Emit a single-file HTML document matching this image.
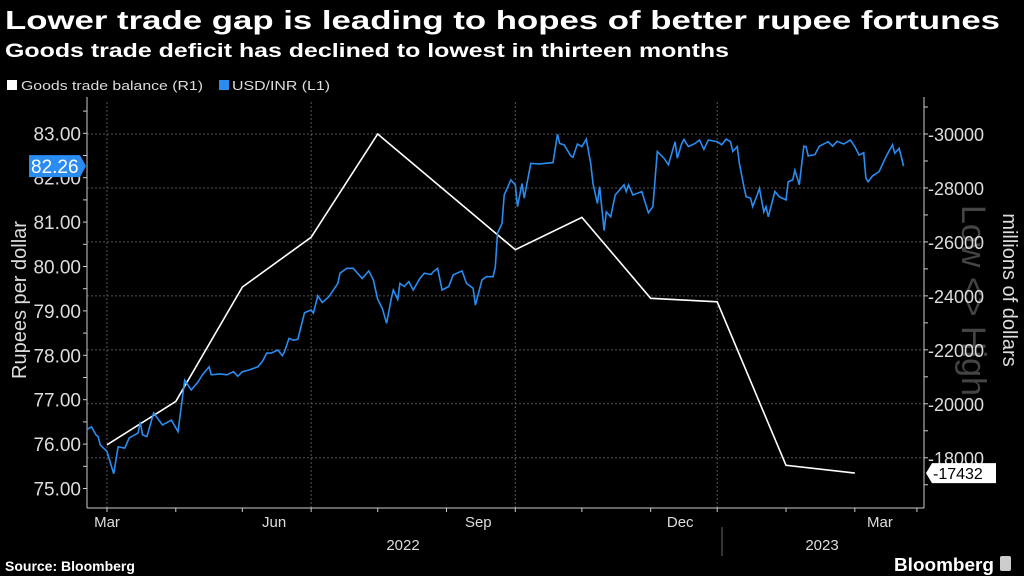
<!DOCTYPE html>
<html><head><meta charset="utf-8"><style>
html,body{margin:0;padding:0;background:#000;width:1024px;height:576px;overflow:hidden}
svg{display:block;font-family:"Liberation Sans",sans-serif}
</style></head><body>
<svg id="chart" width="1024" height="576" viewBox="0 0 1024 576">
<rect x="0" y="0" width="1024" height="576" fill="#000"/>
<text x="5" y="29" fill="#fff" font-size="26" font-weight="bold" textLength="995" lengthAdjust="spacingAndGlyphs">Lower trade gap is leading to hopes of better rupee fortunes</text>
<text x="5" y="57" fill="#fff" font-size="19" font-weight="bold" textLength="724" lengthAdjust="spacingAndGlyphs">Goods trade deficit has declined to lowest in thirteen months</text>
<g>
<g><rect x="7" y="80" width="10" height="10" fill="#fff"/><text x="21" y="90" fill="#ddd" font-size="13" textLength="182" lengthAdjust="spacingAndGlyphs">Goods trade balance (R1)</text></g>
<g><rect x="219" y="80" width="10" height="10" fill="#2a8cf0"/><text x="232" y="90" fill="#ddd" font-size="13" textLength="98" lengthAdjust="spacingAndGlyphs">USD/INR (L1)</text></g>
</g>
<text transform="translate(962,205) rotate(90)" fill="#444" font-size="34">Low &lt;&gt; High</text>
<g id="grid"></g>
<g id="axes"></g>
<g id="series"></g>
<text transform="translate(26,300) rotate(-90)" text-anchor="middle" fill="#ddd" font-size="20">Rupees per dollar</text>
<text transform="translate(1003,290) rotate(90)" text-anchor="middle" fill="#ddd" font-size="20">millions of dollars</text>
<text x="5" y="571" fill="#fff" font-size="14" font-weight="bold">Source: Bloomberg</text>
<text x="894" y="571" fill="#fff" font-size="18" font-weight="bold" textLength="100" lengthAdjust="spacingAndGlyphs">Bloomberg</text>
<rect x="1000" y="556" width="11" height="15" rx="2" fill="#ccc"/>
</svg>
<script>
const inrDays=[-9,-7,-5,-4,-3,0,3,5,8,10,14,15,16,18,21,25,29,32,35,38,41,43,46,47,51,54,57,59,61,64,68,70,72,74,77,79,80,82,84,86,88,89,92,93,95,97,100,104,105,108,111,115,118,120,122,124,126,128,129,131,132,134,136,138,141,143,146,147,149,151,154,156,160,162,165,166,169,171,174,175,176,178,179,182,184,185,187,188,191,195,201,203,204,206,209,210,212,214,216,218,219,221,222,224,225,227,229,233,234,235,237,241,244,246,248,251,253,256,257,259,260,262,265,267,269,271,275,277,279,281,282,284,285,287,288,290,291,293,294,296,297,298,301,303,306,307,309,310,312,314,315,316,319,321,325,327,329,332,335,337,339,341,342,343,345,348,351,354,355,357,359];
const inrValues=[76.33,76.39,76.21,76.17,75.98,75.83,75.33,75.94,75.91,76.14,76.25,76.50,76.21,76.17,76.70,76.43,76.54,76.28,77.44,77.22,77.40,77.56,77.74,77.56,77.58,77.56,77.63,77.53,77.63,77.67,77.74,77.86,78.05,78.05,78.12,77.99,78.08,78.38,78.34,78.36,78.76,78.96,79.02,78.95,79.34,79.19,79.32,79.62,79.85,79.96,79.96,79.73,79.90,79.70,79.26,79.06,78.72,79.25,79.47,79.26,79.62,79.55,79.66,79.47,79.73,79.85,79.82,79.88,79.96,79.47,79.55,79.81,79.90,79.62,79.51,79.13,79.70,79.77,79.77,79.99,80.75,80.97,81.61,81.95,81.84,81.35,81.87,81.54,82.32,82.31,82.34,82.98,82.77,82.74,82.49,82.46,82.76,82.70,82.87,82.32,81.87,81.42,81.80,80.81,81.23,81.12,81.61,81.84,81.69,81.84,81.61,81.69,81.21,81.35,82.59,82.44,82.29,82.81,82.44,82.77,82.86,82.70,82.77,82.85,82.64,82.85,82.81,82.74,82.87,82.81,82.59,82.70,82.32,81.80,81.57,81.54,81.35,81.61,81.76,81.23,81.35,81.12,81.69,81.57,81.50,81.91,81.95,82.17,81.84,82.71,82.70,82.49,82.52,82.71,82.81,82.71,82.82,82.76,82.85,82.70,82.51,82.56,81.99,81.91,82.04,82.14,82.47,82.74,82.55,82.66,82.26];
const tradeDays=[0,31,61,92,122,184,214,245,275,306,337];
const tradeValues=[18480,20090,24330,26170,30000,25710,26910,23910,23780,17720,17432];
const leftTicks=[75,76,77,78,79,80,81,82,83];
const rightTicks=[18000,20000,22000,24000,26000,28000,30000];
const monthTickDays=[0,31,61,92,122,153,184,214,245,275,306,337,365];
const monthLabels=["Mar","Jun","Sep","Dec","Mar"];
const monthLabelDays=[0,92,184,275,365];
const yearLabels=["2022","2023"];

const NS="http://www.w3.org/2000/svg";
const X0=87,X1=924,Y0=102,Y1=508;
const xS=d=>107+d*2.219;
const yL=v=>133.3+(83-v)*44.4;
const yR=v=>134+(30000-v)*0.02698;
function mk(tag,attrs,parent){const e=document.createElementNS(NS,tag);for(const k in attrs)e.setAttribute(k,attrs[k]);parent.appendChild(e);return e;}
const grid=document.getElementById('grid'),axes=document.getElementById('axes'),series=document.getElementById('series');

rightTicks.forEach(v=>{const l=mk('line',{x1:X0,x2:X1,y1:yR(v),y2:yR(v),stroke:'#555','stroke-dasharray':'2,2','stroke-width':1},grid);

});
[0,92,184,275].forEach(d=>{const l=mk('line',{x1:xS(d),x2:xS(d),y1:Y0,y2:Y1,stroke:'#555','stroke-dasharray':'2,2','stroke-width':1},grid);

});

mk('line',{x1:X0,x2:X0,y1:Y0-5,y2:Y1,stroke:'#ccc'},axes);
mk('line',{x1:X1,x2:X1,y1:Y0-5,y2:Y1,stroke:'#ccc'},axes);
mk('line',{x1:X0,x2:X1,y1:Y1,y2:Y1,stroke:'#ccc'},axes);
for(let v=74.5;v<=83.5;v+=0.5){const y=yL(v);if(y<Y0||y>Y1)continue;mk('line',{x1:X0-4,x2:X0,y1:y,y2:y,stroke:'#ccc'},axes);}
for(let v=17000;v<=31000;v+=1000){const y=yR(v);if(y<Y0||y>Y1)continue;mk('line',{x1:X1,x2:X1+4,y1:y,y2:y,stroke:'#ccc'},axes);}
leftTicks.forEach(v=>{const t=mk('text',{x:X0-6,y:yL(v)+7,'text-anchor':'end',fill:'#ddd','font-size':19},axes);t.textContent=v.toFixed(2);

});
rightTicks.forEach(v=>{const t=mk('text',{x:X1+4,y:yR(v)+7,fill:'#ddd','font-size':18},axes);t.textContent='-'+v;

});
monthTickDays.forEach(d=>{mk('line',{x1:xS(d),x2:xS(d),y1:Y1,y2:Y1+4,stroke:'#ccc'},axes);});
monthLabels.forEach((m,i)=>{const d=monthLabelDays[i];const t=mk('text',{x:xS(d)-(i===0?0:37),y:527,'text-anchor':'middle',fill:'#ddd','font-size':15},axes);t.textContent=m;

});
yearLabels.forEach((yv,i)=>{const t=mk('text',{x:i===0?403:822,y:550,'text-anchor':'middle',fill:'#ddd','font-size':15},axes);t.textContent=yv;

});
mk('line',{x1:722,x2:722,y1:527,y2:556,stroke:'#666'},axes);

const tp=tradeDays.map((d,i)=>xS(d).toFixed(1)+','+yR(tradeValues[i]).toFixed(1)).join(' ');
const tl=mk('polyline',{points:tp,fill:'none',stroke:'#fff','stroke-width':1.6},series);


const ip=inrDays.map((d,i)=>xS(d).toFixed(1)+','+yL(inrValues[i]).toFixed(1)).join(' ');
const il=mk('polyline',{points:ip,fill:'none',stroke:'#2a8cf0','stroke-width':1.6},series);



const lastInr=inrValues[inrValues.length-1],yi=yL(lastInr);
const b1=mk('path',{d:`M29,${yi-11} H80 L86,${yi} L80,${yi+11} H29 Z`,fill:'#2a8cf0'},axes);


const t1=mk('text',{x:31,y:yi+7,fill:'#fff','font-size':19},axes);t1.textContent=lastInr.toFixed(2);
const lastT=tradeValues[tradeValues.length-1],yt=yR(lastT);
const b2=mk('path',{d:`M926,${yt} L932,${yt-10} H996 V${yt+10} H932 Z`,fill:'#fff'},axes);


const t2=mk('text',{x:933,y:yt+6,fill:'#000','font-size':16},axes);t2.textContent='-'+lastT;
</script>
</body></html>
